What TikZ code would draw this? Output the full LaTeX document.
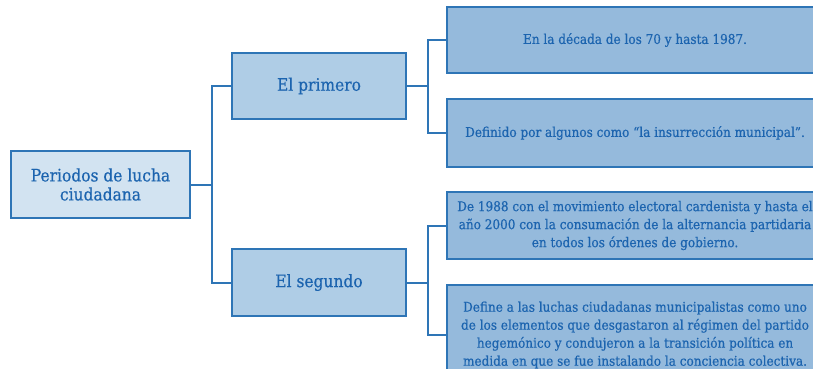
\documentclass[tikz,border=0pt]{standalone}
\usepackage{fontspec}
\setmainfont[FakeBold=0.6]{DejaVu Serif Condensed}
\definecolor{bordc}{HTML}{2E75B6}
\definecolor{txtc}{HTML}{1C64AF}
\definecolor{rootf}{HTML}{D2E3F1}
\definecolor{midf}{HTML}{AFCDE6}
\definecolor{leaff}{HTML}{95BADC}
\begin{document}
\begin{tikzpicture}[x=1pt,y=-1pt,
  box/.style={draw=bordc,line width=2pt,text=txtc,align=center,inner sep=0pt,font=\fontsize{17.2}{19}\selectfont},
  rootbox/.style={box,fill=rootf,minimum width=179pt,minimum height=67pt},
  midbox/.style={box,fill=midf,minimum width=174pt,minimum height=66pt},
  leafbox/.style={box,fill=leaff,minimum width=376pt,minimum height=67pt,font=\fontsize{13.4}{18}\selectfont},
  conn/.style={draw=bordc,line width=2pt}]
\useasboundingbox (0,0) rectangle (813,369);
\clip (0,0) rectangle (813,369);
\node[rootbox] (root) at (100.5,184.5) {Periodos de lucha\\ciudadana};
\node[midbox] (m1) at (319,86) {El primero};
\node[midbox,minimum height=67pt] (m2) at (319,282.5) {El segundo};
\node[leafbox,minimum height=66pt] (l1) at (635,40) {En la década de los 70 y hasta 1987.};
\node[leafbox,minimum height=68pt] (l2) at (635,133) {Definido por algunos como “la insurrección municipal”.};
\node[leafbox] (l3) at (635,225.5) {De 1988 con el movimiento electoral cardenista y hasta el\\año 2000 con la consumación de la alternancia partidaria\\en todos los órdenes de gobierno.};
\node[leafbox,minimum height=100pt] (l4) at (635,335) {Define a las luchas ciudadanas municipalistas como uno\\de los elementos que desgastaron al régimen del partido\\hegemónico y condujeron a la transición política en\\medida en que se fue instalando la conciencia colectiva.};
\coordinate (t0) at ([xshift=21pt]root.east);
\coordinate (t1) at ([xshift=21pt]m1.east);
\coordinate (t2) at ([xshift=21pt]m2.east);
\draw[conn] (root.east) -- (t0);
\draw[conn] (m1.west) -| (t0) |- (m2.west);
\draw[conn] (m1.east) -- (t1);
\draw[conn] (l1.west) -| (t1) |- (l2.west);
\draw[conn] (m2.east) -- (t2);
\draw[conn] (l3.west) -| (t2) |- (l4.west);
\end{tikzpicture}
\end{document}
